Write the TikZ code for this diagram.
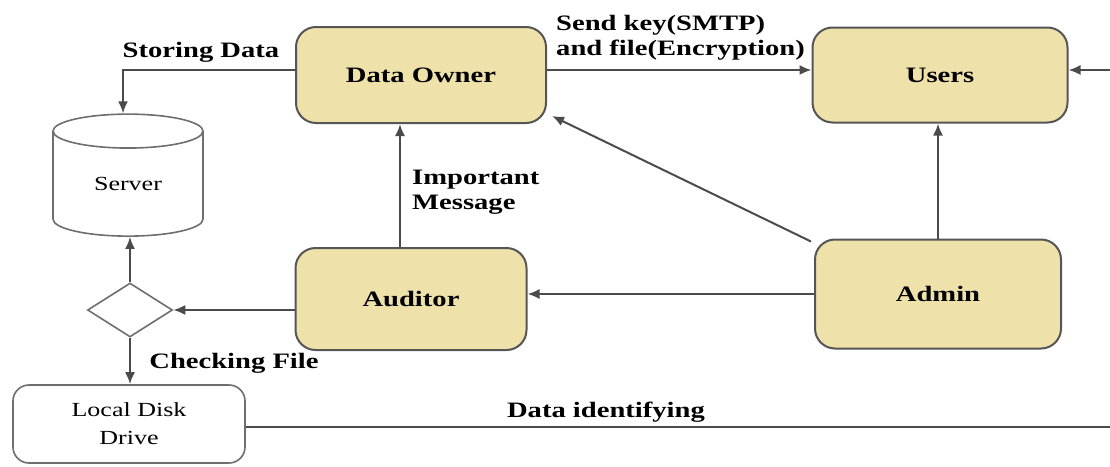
\documentclass[tikz,border=0pt]{standalone}
\usepackage{fontspec}
\setmainfont[FakeStretch=1.3]{Liberation Serif}
\usepackage{tikz}
\usetikzlibrary{shapes.geometric}
\usetikzlibrary{arrows.meta}
\definecolor{roletan}{RGB}{238,225,170}
\definecolor{edgegray}{RGB}{75,75,75}
\definecolor{boxgray}{RGB}{85,85,85}

\begin{document}
\begin{tikzpicture}[x=1pt,y=-1pt]
  \tikzset{role style/.style = {rectangle, rounded corners=20pt, draw=boxgray, line width=2pt, fill=roletan,
                                font=\fontsize{22}{25}\selectfont\bfseries, inner sep=0pt},
           store style/.style = {draw=boxgray!85, line width=1.6pt, fill=white, font=\fontsize{20}{28}\selectfont,
                                 align=center, inner sep=0pt},
           label style/.style = {font=\fontsize{22}{25}\selectfont\bfseries, inner sep=0pt},
           arr/.style = {draw=edgegray, line width=2pt, -{Latex[length=12pt,width=10pt]}},
           plain line/.style = {draw=edgegray, line width=2pt}}
  \useasboundingbox (0,0) rectangle (1110,466);

  \node[role style, minimum width=250pt, minimum height=96pt] (owner) at (421,75) {Data Owner};
  \node[role style, minimum width=255pt, minimum height=95pt] (users) at (940,75) {Users};
  \node[role style, minimum width=231pt, minimum height=102pt] (auditor) at (411,299) {Auditor};
  \node[role style, minimum width=246pt, minimum height=109pt] (admin) at (938,294) {Admin};
  \node[store style, cylinder, shape border rotate=90, aspect=0.5,
        minimum width=150pt, minimum height=122pt] (server) at (128,184) {Server};
  \node[store style, diamond, minimum width=85pt, minimum height=54pt] (check) at (130,310) {};
  \node[store style, rectangle, rounded corners=16pt, minimum width=232pt, minimum height=78pt] (disk) at (129,424) {Local Disk\\Drive};
  \coordinate (usersin) at (1110,70);
  \coordinate (diskout) at (1110,427);

  % connectors
  \draw[arr] ([yshift=5pt]owner.west) -| ([xshift=-5pt]server.north);
  \draw[arr] ([yshift=5pt]owner.east) -- ([yshift=5pt]users.west);
  \draw[arr] (usersin) -- (usersin -| users.east);
  \draw[arr] ([xshift=-11pt]auditor.north) -- ([xshift=-11pt]auditor.north |- owner.south);
  \draw[arr] ([xshift=-3pt,yshift=-3pt]admin.north west) -- ([xshift=5pt,yshift=8pt]owner.south east);
  \draw[arr] (admin.north) -- (admin.north |- users.south);
  \draw[arr] (admin.west) -- (admin.west -| auditor.east);
  \draw[arr] (check.east -| auditor.west) -- (check.east);
  \draw[arr] (check.north) -- (check.north |- server.south);
  \draw[arr] (check.south) -- (check.south |- disk.north);
  \draw[plain line] (disk.east |- diskout) -- (diskout);

  % labels
  \node[label style] (storelbl) at (201,52) {Storing Data};
  \node[label style, align=left, anchor=west] (sendlbl) at (556,38) {Send key(SMTP)\\and file(Encryption)};
  \node[label style, align=left, anchor=west] (msglbl) at (412,192) {Important\\Message};
  \node[label style] (checklbl) at (234,363) {Checking File};
  \node[label style] (identlbl) at (606,412) {Data identifying};
\end{tikzpicture}
\end{document}
